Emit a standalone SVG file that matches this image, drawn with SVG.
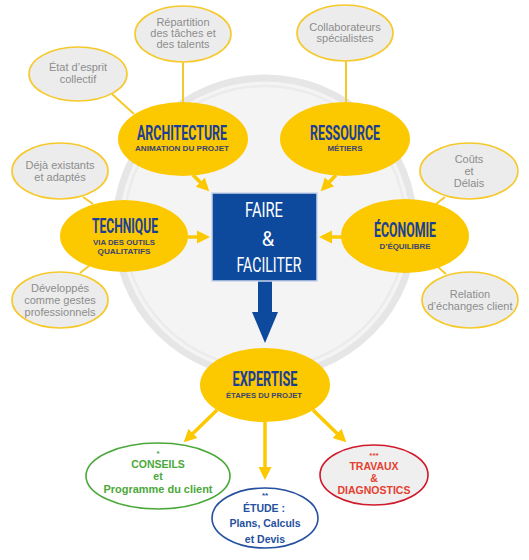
<svg xmlns="http://www.w3.org/2000/svg" width="529" height="560" viewBox="0 0 529 560">
<defs>
<style>
.bg{fill:#ffffff}
.yel{fill:#fcc800}
.gray{fill:#ececec;stroke:#f6c92a;stroke-width:1.6}
.link{stroke:#f6c92a;stroke-width:2;fill:none}
.arr{stroke:#fcc800;stroke-width:3.5;fill:none;marker-end:url(#ah)}
.ttl{font-family:Roboto,"DejaVu Sans Condensed",sans-serif;font-weight:700;font-size:20px;fill:#1b3f95;text-anchor:middle}
.sub{font-family:"Liberation Sans",Arial,sans-serif;font-weight:700;font-size:8px;fill:#3a4470;text-anchor:middle}
.gt{font-family:"Liberation Sans",Arial,sans-serif;font-size:11px;fill:#8d8d8d;text-anchor:middle}
.box{font-family:Roboto,"DejaVu Sans Condensed",sans-serif;font-size:20px;fill:#ffffff;text-anchor:middle}
.bt{font-family:"Liberation Sans",Arial,sans-serif;font-weight:700;font-size:10.5px;text-anchor:middle}
.star{font-family:"Liberation Sans",Arial,sans-serif;font-weight:700;font-size:8px;text-anchor:middle}
</style>
<marker id="ah" markerUnits="userSpaceOnUse" markerWidth="14" markerHeight="14" refX="2" refY="7" orient="auto">
<path d="M0,0.5 L13,7 L0,13.5 z" fill="#fcc800"/>
</marker>
</defs>
<rect class="bg" x="0" y="0" width="529" height="560"/>
<g id="backdrop">
<circle cx="265" cy="227" r="149" fill="#f4f4f4" stroke="#e6e6e6" stroke-width="7"/>
<circle cx="265" cy="227" r="141" fill="none" stroke="#ebebeb" stroke-width="2.5"/>
</g>
<g id="connectors">
<line class="link" x1="183" y1="62" x2="183" y2="102"/>
<line class="link" x1="112" y1="94" x2="134" y2="114"/>
<line class="link" x1="346" y1="61" x2="346" y2="102"/>
<line class="link" x1="83" y1="197" x2="93" y2="204"/>
<line class="link" x1="80" y1="273" x2="89" y2="266"/>
<line class="link" x1="445" y1="197" x2="436" y2="204"/>
<line class="link" x1="438" y1="267" x2="446" y2="274"/>
<line class="arr" x1="193" y1="175" x2="201.5" y2="183.5"/>
<line class="arr" x1="336" y1="175" x2="328.2" y2="183.3"/>
<line class="arr" x1="188" y1="237" x2="199" y2="237"/>
<line class="arr" x1="342" y1="237" x2="330" y2="237"/>
<line class="arr" x1="217" y1="410" x2="191.6" y2="434.7"/>
<line class="arr" x1="265" y1="422" x2="265" y2="469"/>
<line class="arr" x1="313" y1="410" x2="338.4" y2="434.7"/>
<polygon points="258,281 272,281 272,312 278,312 265,343 252,312 258,312" fill="#0d4a9e"/>
</g>
<g id="faire">
<rect x="212" y="193" width="105" height="88" fill="#0d4a9e" stroke="#c9d5ea" stroke-width="1.5"/>
<text class="box" x="264" y="217" textLength="38" lengthAdjust="spacingAndGlyphs">FAIRE</text>
<text class="box" x="268" y="246">&amp;</text>
<text class="box" x="269" y="272" textLength="65" lengthAdjust="spacingAndGlyphs">FACILITER</text>
</g>
<g id="architecture">
<ellipse class="yel" cx="183" cy="139" rx="65" ry="37"/>
<text class="ttl" x="182" y="140" textLength="90" lengthAdjust="spacingAndGlyphs">ARCHITECTURE</text>
<text class="sub" x="182" y="151" textLength="94" lengthAdjust="spacingAndGlyphs">ANIMATION DU PROJET</text>
</g>
<g id="ressource">
<ellipse class="yel" cx="345" cy="139" rx="65" ry="37"/>
<text class="ttl" x="345" y="140" textLength="70" lengthAdjust="spacingAndGlyphs">RESSOURCE</text>
<text class="sub" x="345" y="151" textLength="35" lengthAdjust="spacingAndGlyphs">MÉTIERS</text>
</g>
<g id="technique">
<ellipse class="yel" cx="124" cy="236" rx="64" ry="36"/>
<text class="ttl" x="125" y="233" textLength="66" lengthAdjust="spacingAndGlyphs">TECHNIQUE</text>
<text class="sub" x="124" y="245" textLength="62" lengthAdjust="spacingAndGlyphs">VIA DES OUTILS</text>
<text class="sub" x="124" y="254" textLength="53" lengthAdjust="spacingAndGlyphs">QUALITATIFS</text>
</g>
<g id="economie">
<ellipse class="yel" cx="405" cy="236" rx="64" ry="37"/>
<text class="ttl" x="405" y="237" textLength="62" lengthAdjust="spacingAndGlyphs">ÉCONOMIE</text>
<text class="sub" x="405" y="249" textLength="51" lengthAdjust="spacingAndGlyphs">D’ÉQUILIBRE</text>
</g>
<g id="expertise">
<ellipse class="yel" cx="265" cy="385" rx="65" ry="37"/>
<text class="ttl" x="265" y="386" textLength="65" lengthAdjust="spacingAndGlyphs">EXPERTISE</text>
<text class="sub" x="264" y="398" textLength="76" lengthAdjust="spacingAndGlyphs">ÉTAPES DU PROJET</text>
</g>
<g id="repartition">
<ellipse class="gray" cx="183" cy="34" rx="48" ry="28"/>
<text class="gt" x="183" y="26">Répartition</text>
<text class="gt" x="183" y="37">des tâches et</text>
<text class="gt" x="183" y="48">des talents</text>
</g>
<g id="etat">
<ellipse class="gray" cx="78" cy="74" rx="49" ry="27"/>
<text class="gt" x="78" y="71">État d’esprit</text>
<text class="gt" x="78" y="83">collectif</text>
</g>
<g id="collaborateurs">
<ellipse class="gray" cx="345" cy="33" rx="48" ry="28"/>
<text class="gt" x="345" y="31">Collaborateurs</text>
<text class="gt" x="345" y="42">spécialistes</text>
</g>
<g id="deja">
<ellipse class="gray" cx="60" cy="171" rx="48" ry="28"/>
<text class="gt" x="60" y="169">Déjà existants</text>
<text class="gt" x="60" y="181">et adaptés</text>
</g>
<g id="developpes">
<ellipse class="gray" cx="60" cy="300" rx="48" ry="28"/>
<text class="gt" x="60" y="292">Développés</text>
<text class="gt" x="60" y="304">comme gestes</text>
<text class="gt" x="60" y="316">professionnels</text>
</g>
<g id="couts">
<ellipse class="gray" cx="469" cy="171" rx="49" ry="28"/>
<text class="gt" x="469" y="163">Coûts</text>
<text class="gt" x="469" y="175">et</text>
<text class="gt" x="469" y="187">Délais</text>
</g>
<g id="relation">
<ellipse class="gray" cx="470" cy="300" rx="48" ry="28"/>
<text class="gt" x="470" y="298">Relation</text>
<text class="gt" x="470" y="310">d’échanges client</text>
</g>
<g id="conseils">
<ellipse cx="158" cy="476" rx="72" ry="33" fill="#ffffff" stroke="#4ba83a" stroke-width="1.6"/>
<text class="star" x="158" y="456" fill="#4ba83a">*</text>
<text class="bt" x="158" y="468" fill="#4ba83a">CONSEILS</text>
<text class="bt" x="158" y="480" fill="#4ba83a">et</text>
<text class="bt" x="158" y="493" fill="#4ba83a" textLength="109" lengthAdjust="spacingAndGlyphs">Programme du client</text>
</g>
<g id="etude">
<ellipse cx="265" cy="518" rx="53" ry="30" fill="#ffffff" stroke="#24509e" stroke-width="1.6"/>
<text class="star" x="265" y="498" fill="#24509e">**</text>
<text class="bt" x="264" y="512" fill="#24509e">ÉTUDE :</text>
<text class="bt" x="265" y="527" fill="#24509e">Plans, Calculs</text>
<text class="bt" x="265" y="543" fill="#24509e">et Devis</text>
</g>
<g id="travaux">
<ellipse cx="374" cy="475" rx="54" ry="30" fill="#efefef" stroke="#d0192b" stroke-width="1.6"/>
<text class="star" x="374" y="458" fill="#e5402f">***</text>
<text class="bt" x="374" y="470" fill="#e5402f">TRAVAUX</text>
<text class="bt" x="374" y="482" fill="#e5402f">&amp;</text>
<text class="bt" x="374" y="494" fill="#e5402f">DIAGNOSTICS</text>
</g>
</svg>
